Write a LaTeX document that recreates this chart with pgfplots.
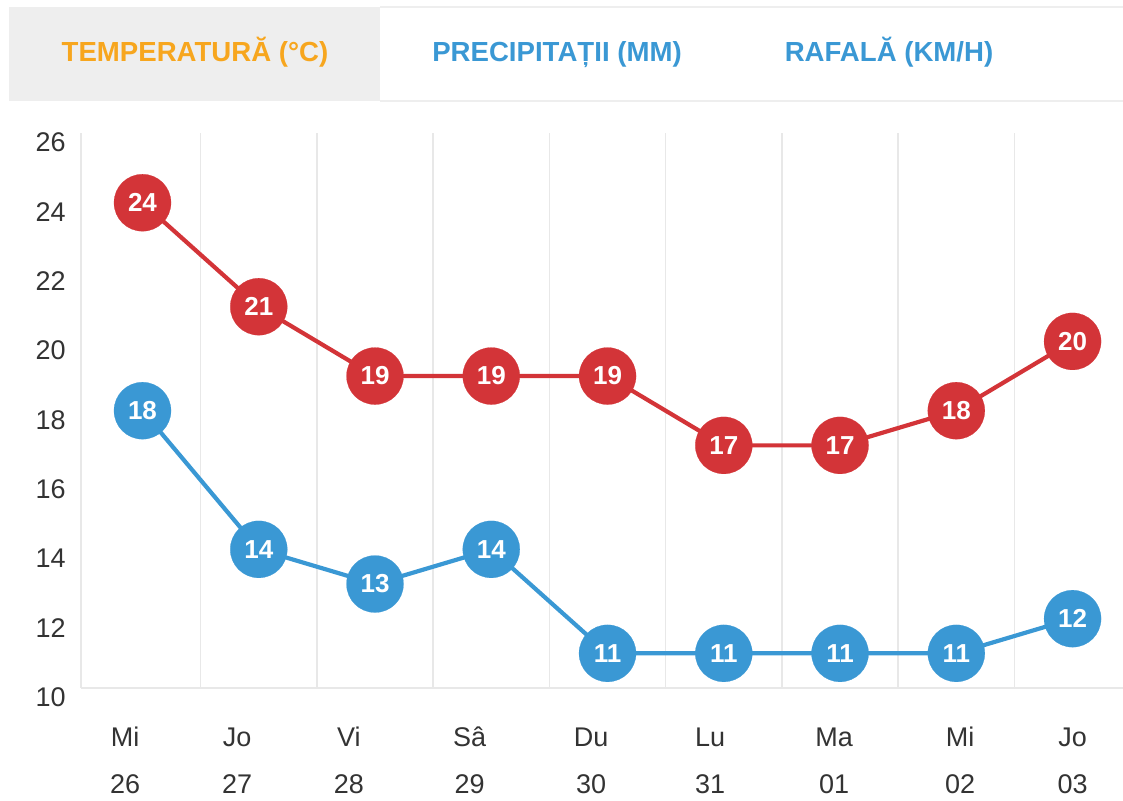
\documentclass[border=0pt]{standalone}
\usepackage{fontspec}
\setmainfont{Liberation Sans}
\usepackage{pgfplots}
\pgfplotsset{compat=1.18}
\definecolor{tred}{RGB}{211,52,56}
\definecolor{tblue}{RGB}{58,152,212}
\definecolor{torange}{RGB}{247,166,30}
\definecolor{tgray}{RGB}{238,238,238}
\definecolor{tgrid}{RGB}{232,232,232}
\definecolor{ttext}{RGB}{51,51,51}
\newcommand{\ph}{\vphantom{Sâ}}
\begin{document}
\begin{tikzpicture}[x=1pt,y=1pt]
\useasboundingbox (0,0) rectangle (561.5,400);
\fill[tgray] (4.5,349.5) rectangle (190,396.5);
\draw[tgray, line width=1pt] (190,396.5) -- (561.5,396.5);
\draw[tgray, line width=1pt] (190,349.5) -- (561.5,349.5);
\node[anchor=base, font=\fontsize{13.8}{15}\selectfont\bfseries, text=torange] at (97.5,369) {TEMPERATURĂ (°C)};
\node[anchor=base, font=\fontsize{13.8}{15}\selectfont\bfseries, text=tblue] at (278.5,369) {PRECIPITAȚII (MM)};
\node[anchor=base, font=\fontsize{13.8}{15}\selectfont\bfseries, text=tblue] at (444.5,369) {RAFALĂ (KM/H)};
\begin{axis}[
  at={(40.5pt,56pt)}, anchor=south west, scale only axis,
  width=521pt, height=277.3pt,
  xmin=-0.529, xmax=8.434, ymin=10, ymax=26,
  clip=false,
  axis x line=bottom, axis y line=left,
  axis line style={draw=tgrid, line width=1pt, -},
  ytick={10,12,...,26},
  xtick={-0.15,0.813,1.776,2.813,3.858,4.882,5.95,7.032,8},
  xticklabels={{\ph Mi\\26},{\ph Jo\\27},{\ph Vi\\28},{\ph Sâ\\29},{\ph Du\\30},{\ph Lu\\31},{\ph Ma\\01},{\ph Mi\\02},{\ph Jo\\03}},
  minor xtick={0.5,1.5,2.5,3.5,4.5,5.5,6.5,7.5},
  xminorgrids=true,
  minor grid style={draw=tgrid, line width=0.75pt},
  major tick length=0pt, minor tick length=0pt,
  /pgf/number format/assume math mode=true,
  ticklabel style={text=ttext, font=\fontsize{13.5}{23.5}\selectfont},
  xticklabel style={align=center, anchor=north, inner sep=0pt, yshift=-19pt},
  yticklabel style={anchor=east, inner sep=0pt, xshift=-7.5pt, yshift=-4.5pt},
  every node near coord/.append style={anchor=center, text=white, font=\fontsize{13}{14}\selectfont\bfseries},
]
\addplot[tred, line width=2.1pt, mark=*, mark size=14.25pt, mark options={solid, fill=tred, draw=tred, line width=0.1pt}, nodes near coords] coordinates {
(0,24) (1,21) (2,19) (3,19) (4,19) (5,17) (6,17) (7,18) (8,20)};
\addplot[tblue, line width=2.1pt, mark=*, mark size=14.25pt, mark options={solid, fill=tblue, draw=tblue, line width=0.1pt}, nodes near coords] coordinates {
(0,18) (1,14) (2,13) (3,14) (4,11) (5,11) (6,11) (7,11) (8,12)};
\end{axis}
\end{tikzpicture}
\end{document}
